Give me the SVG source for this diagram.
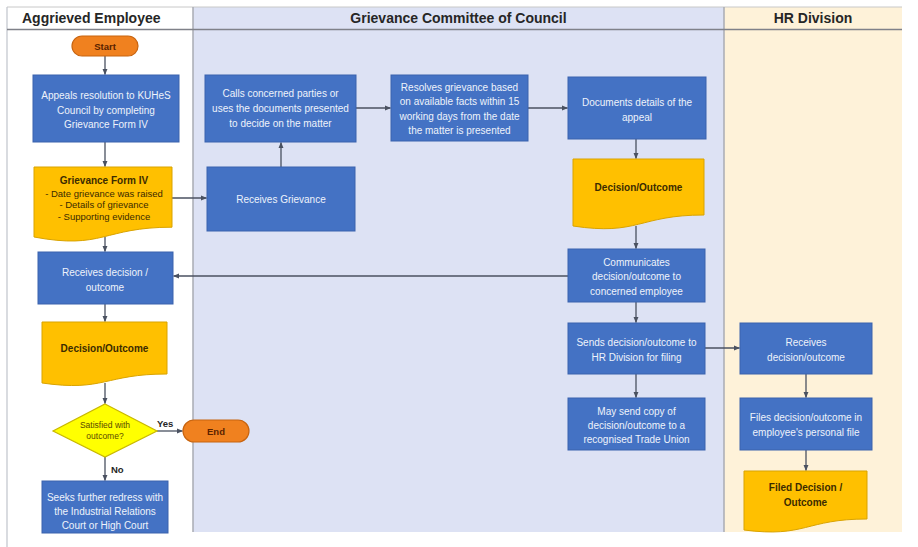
<svg xmlns="http://www.w3.org/2000/svg" width="918" height="547" viewBox="0 0 918 547">
  <defs>
    <marker id="arrow" viewBox="0 0 10 10" refX="9" refY="5" markerWidth="5" markerHeight="5" orient="auto-start-reverse">
      <path d="M0,1 L10,5 L0,9 Z" fill="#4a5160"/>
    </marker>
    <style>
      .lane-head { font-family: "Liberation Sans", Arial, sans-serif; font-weight: bold; font-size: 14px; fill: #262626; }
      .proc rect { fill: #4472c4; stroke: #3a62ad; stroke-width: 1; }
      .proc text { font-family: "Liberation Sans", Arial, sans-serif; font-size: 10px; fill: #eef2fb; text-anchor: middle; dominant-baseline: central; }
      .doc path { fill: #ffc000; stroke: #d9a300; stroke-width: 1; }
      .doc text { font-family: "Liberation Sans", Arial, sans-serif; font-size: 9.5px; fill: #3b2b00; text-anchor: middle; dominant-baseline: central; }
      .doc text.title { font-weight: bold; font-size: 10px; }
      .term rect { fill: #f0811f; stroke: #c8640f; stroke-width: 1.2; }
      .term text { font-family: "Liberation Sans", Arial, sans-serif; font-weight: bold; font-size: 9.5px; fill: #5a2200; text-anchor: middle; dominant-baseline: central; }
      .dec polygon { fill: #ffff00; stroke: #c9b800; stroke-width: 1.2; }
      .dec text { font-family: "Liberation Sans", Arial, sans-serif; font-size: 8.5px; fill: #5a4a00; text-anchor: middle; dominant-baseline: central; }
      .conn line { stroke: #4a5160; stroke-width: 1.3; fill: none; marker-end: url(#arrow); }
      .conn text { font-family: "Liberation Sans", Arial, sans-serif; font-weight: bold; font-size: 9.5px; fill: #262626; dominant-baseline: central; }
    </style>
  </defs>

  <!-- page -->
  <rect x="0" y="0" width="918" height="547" fill="#ffffff"/>

  <!-- swimlanes -->
  <g id="lanes">
    <rect x="7" y="7" width="186" height="540" fill="#ffffff"/>
    <rect x="193" y="7" width="531" height="525" fill="#dde2f4"/>
    <rect x="724" y="7" width="178" height="525" fill="#fef2d9"/>
    <line x1="7" y1="7" x2="902" y2="7" stroke="#c8c8c8" stroke-width="1"/>
    <line x1="7" y1="7" x2="7" y2="547" stroke="#c0c4cc" stroke-width="1.2"/>
    <line x1="193" y1="7" x2="193" y2="532" stroke="#a9abb3" stroke-width="1.5"/>
    <line x1="724" y1="7" x2="724" y2="532" stroke="#a9abb3" stroke-width="1.5"/>
    <line x1="7" y1="29.5" x2="902" y2="29.5" stroke="#7f8189" stroke-width="1.5"/>
    <text class="lane-head" x="22" y="23">Aggrieved Employee</text>
    <text class="lane-head" x="458.5" y="23" text-anchor="middle">Grievance Committee of Council</text>
    <text class="lane-head" x="813" y="23" text-anchor="middle">HR Division</text>
  </g>

  <!-- connectors -->
  <g id="connectors" class="conn">
    <line x1="105" y1="56" x2="105" y2="74.5"/>
    <line x1="105" y1="142" x2="105" y2="166.5"/>
    <line x1="105" y1="237" x2="105" y2="251.5"/>
    <line x1="105" y1="304" x2="105" y2="321.5"/>
    <line x1="105" y1="383" x2="105" y2="403.5"/>
    <line x1="157" y1="431" x2="182.5" y2="431"/>
    <text x="157" y="423">Yes</text>
    <line x1="105" y1="457" x2="105" y2="480.5"/>
    <text x="111" y="469">No</text>
    <line x1="172" y1="198" x2="206.5" y2="198"/>
    <line x1="281" y1="167" x2="281" y2="142.5"/>
    <line x1="356" y1="108" x2="390.5" y2="108"/>
    <line x1="528" y1="108" x2="567.5" y2="108"/>
    <line x1="636" y1="139" x2="636" y2="158.5"/>
    <line x1="636" y1="226" x2="636" y2="248.5"/>
    <line x1="568" y1="276" x2="173.5" y2="276"/>
    <line x1="636" y1="302" x2="636" y2="322.5"/>
    <line x1="705" y1="348" x2="739.5" y2="348"/>
    <line x1="636" y1="374" x2="636" y2="397.5"/>
    <line x1="806" y1="374" x2="806" y2="397.5"/>
    <line x1="806" y1="450" x2="806" y2="470.5"/>
  </g>

  <!-- Aggrieved Employee lane -->
  <g id="start" class="term">
    <rect x="72" y="36" width="66" height="20" rx="10"/>
    <text x="105" y="46">Start</text>
  </g>
  <g id="appeals" class="proc">
    <rect x="33" y="75" width="146" height="67"/>
    <text x="106" y="95">Appeals resolution to KUHeS</text>
    <text x="106" y="110">Council by completing</text>
    <text x="106" y="124">Grievance Form IV</text>
  </g>
  <g id="grievance-form" class="doc">
    <path d="M34,167 H172 V227.2 C103,227.2 103,250 34,237 Z"/>
    <text class="title" x="104" y="180">Grievance Form IV</text>
    <text x="104" y="193" font-size="8.5">- Date grievance was raised</text>
    <text x="104" y="204.5" font-size="8.5">- Details of grievance</text>
    <text x="104" y="216" font-size="8.5">- Supporting evidence</text>
  </g>
  <g id="receives-decision" class="proc">
    <rect x="38" y="252" width="135" height="52"/>
    <text x="105" y="272">Receives decision /</text>
    <text x="105" y="287">outcome</text>
  </g>
  <g id="employee-outcome" class="doc">
    <path d="M42,322 H167 V374 C104.5,374 104.5,392 42,383 Z"/>
    <text class="title" x="104.5" y="348">Decision/Outcome</text>
  </g>
  <g id="satisfied" class="dec">
    <polygon points="105,404 157,431 105,457 53,431"/>
    <text x="105" y="425">Satisfied with</text>
    <text x="105" y="436">outcome?</text>
  </g>
  <g id="end" class="term">
    <rect x="183" y="420" width="66" height="22" rx="11"/>
    <text x="216" y="431">End</text>
  </g>
  <g id="further-redress" class="proc">
    <rect x="42" y="481" width="126" height="52"/>
    <text x="105" y="497">Seeks further redress with</text>
    <text x="105" y="511">the Industrial Relations</text>
    <text x="105" y="525">Court or High Court</text>
  </g>

  <!-- Grievance Committee of Council lane -->
  <g id="calls-parties" class="proc">
    <rect x="205" y="75" width="151" height="67"/>
    <text x="280.5" y="93">Calls concerned parties or</text>
    <text x="280.5" y="108">uses the documents presented</text>
    <text x="280.5" y="123">to decide on the matter</text>
  </g>
  <g id="resolves" class="proc">
    <rect x="391" y="75" width="137" height="66"/>
    <text x="459.5" y="87">Resolves grievance based</text>
    <text x="459.5" y="101.5">on available facts within 15</text>
    <text x="459.5" y="116">working days from the date</text>
    <text x="459.5" y="130.5">the matter is presented</text>
  </g>
  <g id="receives-grievance" class="proc">
    <rect x="207" y="167" width="148" height="64"/>
    <text x="281" y="199">Receives Grievance</text>
  </g>
  <g id="documents-details" class="proc">
    <rect x="568" y="77" width="138" height="62"/>
    <text x="637" y="102">Documents details of the</text>
    <text x="637" y="117">appeal</text>
  </g>
  <g id="committee-outcome" class="doc">
    <path d="M573,159 H704 V215 C638.5,215 638.5,236 573,226 Z"/>
    <text class="title" x="638.5" y="187">Decision/Outcome</text>
  </g>
  <g id="communicates" class="proc">
    <rect x="568" y="249" width="137" height="53"/>
    <text x="636.5" y="262">Communicates</text>
    <text x="636.5" y="276">decision/outcome to</text>
    <text x="636.5" y="291">concerned employee</text>
  </g>
  <g id="sends-hr" class="proc">
    <rect x="568" y="323" width="137" height="51"/>
    <text x="636.5" y="342">Sends decision/outcome to</text>
    <text x="636.5" y="357">HR Division for filing</text>
  </g>
  <g id="trade-union" class="proc">
    <rect x="568" y="398" width="137" height="52"/>
    <text x="636.5" y="411">May send copy of</text>
    <text x="636.5" y="425">decision/outcome to a</text>
    <text x="636.5" y="439">recognised Trade Union</text>
  </g>

  <!-- HR Division lane -->
  <g id="hr-receives" class="proc">
    <rect x="740" y="323" width="132" height="51"/>
    <text x="806" y="342">Receives</text>
    <text x="806" y="357">decision/outcome</text>
  </g>
  <g id="hr-files" class="proc">
    <rect x="740" y="398" width="132" height="52"/>
    <text x="806" y="417">Files decision/outcome in</text>
    <text x="806" y="432">employee's personal file</text>
  </g>
  <g id="filed-outcome" class="doc">
    <path d="M744,471 H867 V519 C805.5,519 805.5,538 744,530 Z"/>
    <text class="title" x="805.5" y="487">Filed Decision /</text>
    <text class="title" x="805.5" y="502">Outcome</text>
  </g>
</svg>
